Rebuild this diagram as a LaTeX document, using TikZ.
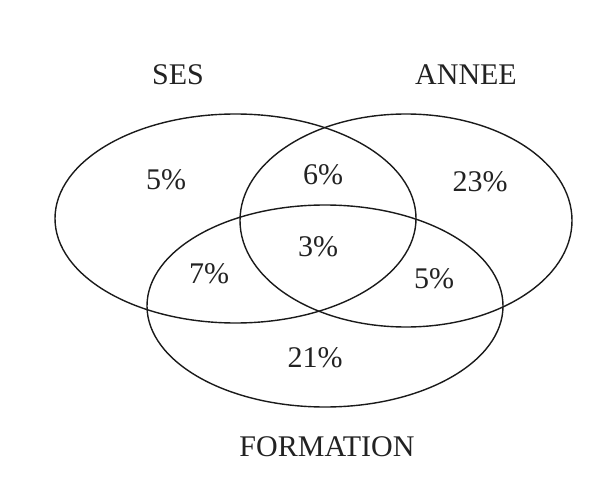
\documentclass[tikz,border=0pt]{standalone}
\usepackage{fontspec}
\setmainfont{Liberation Serif}
\usetikzlibrary{shapes.geometric}
\definecolor{vnLine}{HTML}{1A1A1A}
\definecolor{vnText}{HTML}{222222}

\begin{document}
\begin{tikzpicture}[x=1pt, y=-1pt,
    every node/.style={font=\fontsize{30}{36}\selectfont, text=vnText, inner sep=0pt},
    setshape/.style={draw=vnLine, line width=1.4pt, ellipse}]
        \useasboundingbox (0,0) rectangle (615,497);
        % the three sets
        \node[setshape, minimum width=361pt, minimum height=209pt] (ses) at (235.5,218.5) {};
        \node[setshape, minimum width=332pt, minimum height=213pt] (annee) at (406,220.5) {};
        \node[setshape, minimum width=356pt, minimum height=202pt] (formation) at (325,306) {};
        % set names
        \node (seslabel) at (178,75) {SES};
        \node (anneelabel) at (466,75) {ANNEE};
        \node (formationlabel) at (327,447) {FORMATION};
        % shares
        \node (sesonly) at (166,180) {5\%};
        \node (sesannee) at (323,175) {6\%};
        \node (anneeonly) at (480,182) {23\%};
        \node (allthree) at (318,247) {3\%};
        \node (sesform) at (209,274) {7\%};
        \node (anneeform) at (434,279) {5\%};
        \node (formonly) at (315,358) {21\%};
      \end{tikzpicture}
\end{document}
